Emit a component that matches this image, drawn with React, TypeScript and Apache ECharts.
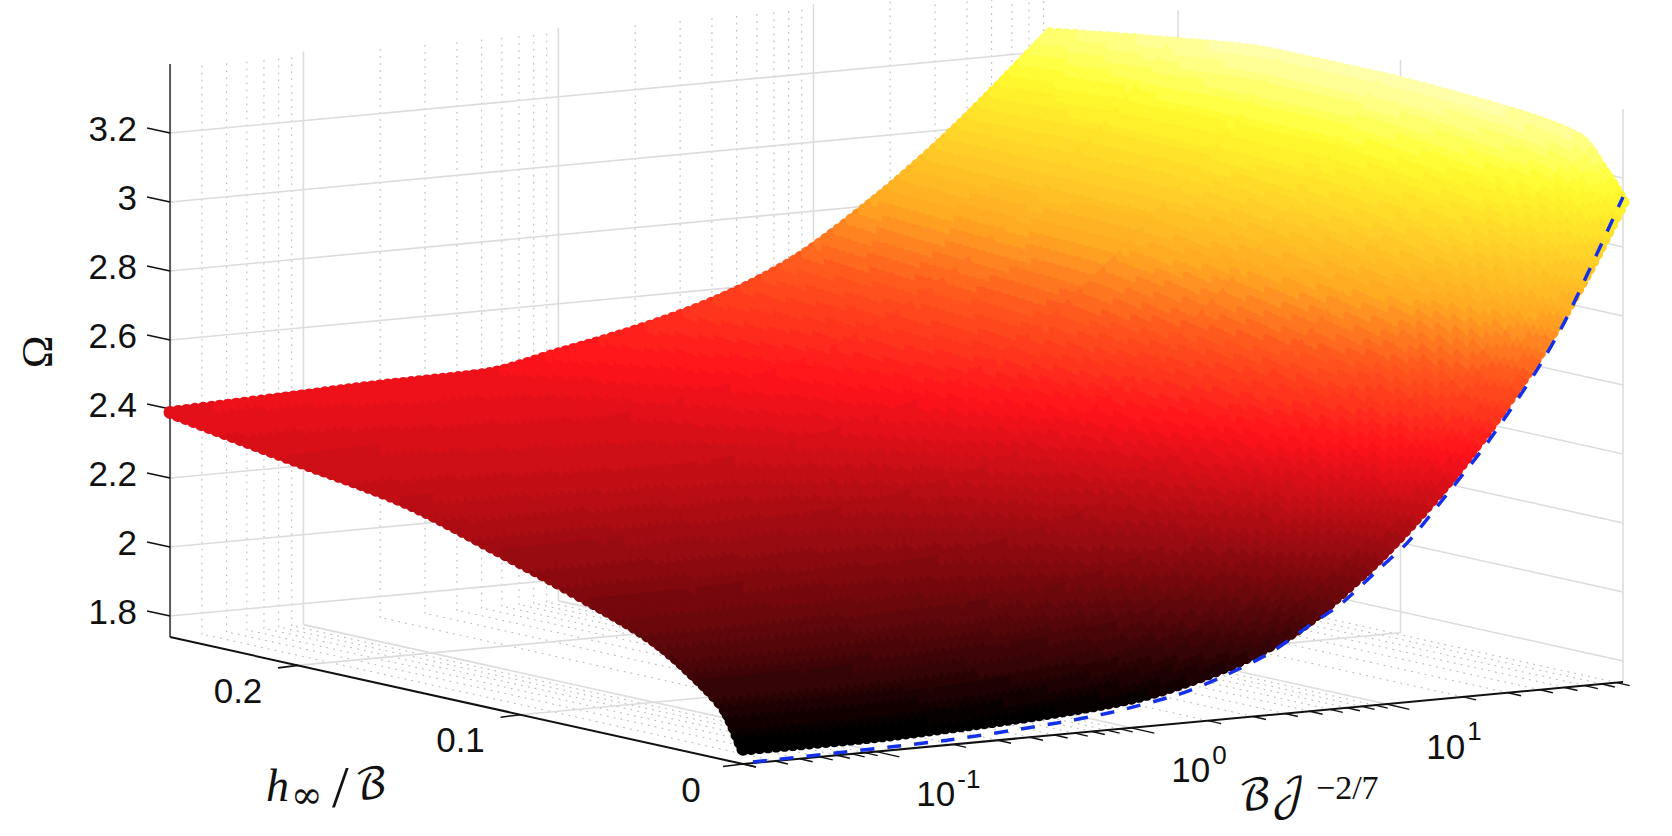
import React, { useEffect, useRef } from "react";
import * as echarts from "echarts";

// ---- data ----
const logXMin = -1.523;
const logXMax = 1.928;
const hMax = 0.2575;
const omegaMin = 1.739;
const omegaMax = 3.4;

const omegaTicks = [1.8, 2, 2.2, 2.4, 2.6, 2.8, 3, 3.2];
const omegaTickLabels = ["1.8", "2", "2.2", "2.4", "2.6", "2.8", "3", "3.2"];
const hTicks = [0, 0.1, 0.2];
const hTickLabels = ["0", "0.1", "0.2"];
const decadeTicks = [-1, 0, 1];
const decadeTickLabels = ["-1", "0", "1"];
const minorFactors = [2, 3, 4, 5, 6, 7, 8, 9];

// surface: log10(BJ^-2/7) columns, h/B rows
const surfaceLogX = [-1.523, -1.1, -0.7, -0.3, 0, 0.3, 0.6, 0.9, 1.2, 1.5, 1.75, 1.928];
const surfaceH = [0, 0.008, 0.02, 0.04, 0.07, 0.11, 0.155, 0.205, 0.2575];
const omegaH0 = [1.782, 1.782, 1.79, 1.805, 1.825, 1.875, 1.96, 2.12, 2.335, 2.61, 2.89, 3.13];
const omegaH1 = [1.885, 1.885, 1.893, 1.908, 1.929, 1.979, 2.063, 2.221, 2.433, 2.705, 2.981, 3.2];
const omegaH2 = [1.955, 1.956, 1.964, 1.978, 2.0, 2.049, 2.132, 2.287, 2.496, 2.763, 3.034, 3.285];
const omegaH3 = [2.04, 2.042, 2.05, 2.063, 2.086, 2.136, 2.217, 2.366, 2.569, 2.828, 3.09, 3.31];
const omegaH4 = [2.115, 2.118, 2.126, 2.139, 2.164, 2.213, 2.291, 2.432, 2.626, 2.873, 3.122, 3.325];
const omegaH5 = [2.2, 2.204, 2.213, 2.224, 2.252, 2.3, 2.375, 2.505, 2.688, 2.918, 3.149, 3.335];
const omegaH6 = [2.285, 2.291, 2.3, 2.309, 2.341, 2.388, 2.458, 2.576, 2.746, 2.958, 3.15, 3.335];
const omegaH7 = [2.335, 2.343, 2.353, 2.36, 2.395, 2.442, 2.507, 2.611, 2.766, 2.958, 3.146, 3.3];
const omegaH8 = [2.39, 2.4, 2.41, 2.415, 2.455, 2.5, 2.56, 2.65, 2.79, 2.96, 3.125, 3.25];
const surfaceOmega = [omegaH0, omegaH1, omegaH2, omegaH3, omegaH4, omegaH5, omegaH6, omegaH7, omegaH8];

// dashed limit curve at h = 0
const dashedLogX = [-1.484, -0.723, -0.292, -0.072, 0.179, 0.348, 0.544, 0.712, 0.818, 0.975, 1.081, 1.21, 1.395, 1.591, 1.708, 1.928];
const dashedOmega = [1.742, 1.753, 1.773, 1.79, 1.822, 1.86, 1.919, 1.994, 2.039, 2.135, 2.2, 2.307, 2.468, 2.667, 2.811, 3.145];

// colour map
const colorOmega = [1.8, 2.45, 2.66, 2.82, 3.14, 3.18, 3.34];
const colorRGB = [
  [0, 0, 0],
  [255, 18, 28],
  [255, 90, 30],
  [255, 170, 35],
  [255, 248, 45],
  [255, 255, 60],
  [255, 255, 175],
];
const COLOR_STEP = 0.028;

// ---- 3-D view ----
const FRONT = [743, 764];
const PX_PER_DECADE = [255, -23.76];
const PX_PER_H = [-2225, -493];
const PX_PER_OMEGA = 345;

function project(logX: number, h: number, omega: number): [number, number] {
  const du = logX - logXMin;
  return [
    FRONT[0] + PX_PER_DECADE[0] * du + PX_PER_H[0] * h,
    FRONT[1] + PX_PER_DECADE[1] * du + PX_PER_H[1] * h - PX_PER_OMEGA * (omega - omegaMin),
  ];
}

function hermite(xs: number[], ys: number[], x: number): number {
  const n = xs.length;
  let k = 0;
  while (k < n - 2 && x > xs[k + 1]) k++;
  const d = (i: number) => (ys[i + 1] - ys[i]) / (xs[i + 1] - xs[i]);
  const slope = (i: number) => {
    if (i === 0) return d(0);
    if (i === n - 1) return d(n - 2);
    const a = d(i - 1);
    const b = d(i);
    if (a * b <= 0) return 0;
    const w1 = 2 * (xs[i + 1] - xs[i]) + (xs[i] - xs[i - 1]);
    const w2 = (xs[i + 1] - xs[i]) + 2 * (xs[i] - xs[i - 1]);
    return (w1 + w2) / (w1 / a + w2 / b);
  };
  const w = xs[k + 1] - xs[k];
  const t = (x - xs[k]) / w;
  const t2 = t * t;
  const t3 = t2 * t;
  return (
    (2 * t3 - 3 * t2 + 1) * ys[k] +
    (t3 - 2 * t2 + t) * w * slope(k) +
    (-2 * t3 + 3 * t2) * ys[k + 1] +
    (t3 - t2) * w * slope(k + 1)
  );
}

function omegaAt(logX: number, h: number): number {
  const row = surfaceLogX.map((_, c) => hermite(surfaceH, surfaceOmega.map((r) => r[c]), h));
  return hermite(surfaceLogX, row, logX);
}

function colorOf(omega: number): string {
  const q = Math.round(omega / COLOR_STEP) * COLOR_STEP;
  if (q <= colorOmega[0]) return "rgb(0,0,0)";
  let k = 0;
  while (k < colorOmega.length - 2 && q > colorOmega[k + 1]) k++;
  const f = Math.min(1, (q - colorOmega[k]) / (colorOmega[k + 1] - colorOmega[k]));
  const c = colorRGB[k].map((v, i) => Math.round(v + f * (colorRGB[k + 1][i] - v)));
  return `rgb(${c[0]},${c[1]},${c[2]})`;
}

const dist = (a: number[], b: number[]) => Math.hypot(a[0] - b[0], a[1] - b[1]);

const DOT_R = 6.5;
const DOT_STEP = 8.5;

function surfaceRender(_p: any, api: any) {
  const c = api.value(0) as number;
  const r = api.value(1) as number;
  const u0 = surfaceLogX[c];
  const u1 = surfaceLogX[c + 1];
  const h0 = surfaceH[r];
  const h1 = surfaceH[r + 1];
  const p00 = project(u0, h0, surfaceOmega[r][c]);
  const p10 = project(u1, h0, surfaceOmega[r][c + 1]);
  const p01 = project(u0, h1, surfaceOmega[r + 1][c]);
  const p11 = project(u1, h1, surfaceOmega[r + 1][c + 1]);
  const ns = Math.max(1, Math.ceil(Math.max(dist(p00, p10), dist(p01, p11)) / DOT_STEP));
  const nt = Math.max(1, Math.ceil(Math.max(dist(p00, p01), dist(p10, p11)) / DOT_STEP));
  const children: any[] = [];
  const lastA = c === surfaceLogX.length - 2 ? ns : ns - 1;
  const lastB = r === surfaceH.length - 2 ? nt : nt - 1;
  for (let a = 0; a <= lastA; a++) {
    for (let b = lastB; b >= 0; b--) {
      const u = u0 + ((u1 - u0) * a) / ns;
      const h = h0 + ((h1 - h0) * b) / nt;
      const w = omegaAt(u, h);
      const pt = api.coord(project(u, h, w));
      children.push({
        type: "circle",
        shape: { cx: pt[0], cy: pt[1], r: DOT_R },
        style: { fill: colorOf(w) },
      });
    }
  }
  return { type: "group", children };
}

const GRID = "#dcdcdc";
const DOT = "#b4b4b4";

function seg(name: string, a: number[], b: number[], color: string, width: number, z: number, dash?: number[]) {
  return {
    type: "line",
    name,
    z,
    data: [a, b],
    showSymbol: false,
    silent: true,
    clip: false,
    animation: false,
    lineStyle: { color, width, type: dash ?? "solid", cap: dash ? "round" : "butt" },
  };
}

function buildSeries() {
  const out: any[] = [];
  // minor log gridlines
  const minors: number[] = [];
  for (const d of [-2, -1, 0, 1]) {
    for (const f of minorFactors) {
      const u = d + Math.log10(f);
      if (u >= logXMin - 0.002 && u <= logXMax) minors.push(u);
    }
  }
  for (const u of minors) {
    if (u > logXMin + 0.01) {
      out.push(seg("minor wall", project(u, hMax, omegaMin), project(u, hMax, omegaMax), DOT, 1, 1, [1, 6]));
    }
    out.push(seg("minor floor", project(u, 0, omegaMin), project(u, hMax, omegaMin), DOT, 1, 1, [1, 6]));
  }
  // major gridlines
  for (const w of omegaTicks) {
    out.push(seg("omega back", project(logXMin, hMax, w), project(logXMax, hMax, w), GRID, 1.6, 1));
    out.push(seg("omega right", project(logXMax, hMax, w), project(logXMax, 0, w), GRID, 1.6, 1));
  }
  for (const u of decadeTicks) {
    out.push(seg("decade floor", project(u, 0, omegaMin), project(u, hMax, omegaMin), GRID, 1.6, 1));
    out.push(seg("decade wall", project(u, hMax, omegaMin), project(u, hMax, omegaMax), GRID, 1.6, 1));
  }
  for (const h of hTicks) {
    if (h > 0) out.push(seg("h floor", project(logXMin, h, omegaMin), project(logXMax, h, omegaMin), GRID, 1.6, 1));
    out.push(seg("h wall", project(logXMax, h, omegaMin), project(logXMax, h, omegaMax), GRID, 1.6, 1));
  }
  // axes
  out.push(seg("omega axis", project(logXMin, hMax, omegaMin), project(logXMin, hMax, omegaMax), "#5a5a5a", 2, 1));
  out.push(seg("h axis", project(logXMin, hMax, omegaMin), project(logXMin, 0, omegaMin), "#111", 2, 1));
  out.push(seg("x axis", project(logXMin, 0, omegaMin), project(logXMax, 0, omegaMin), "#111", 2, 1));
  // ticks
  for (const w of omegaTicks) {
    const a = project(logXMin, hMax, w);
    out.push(seg("omega tick", a, [a[0] - 23, a[1] - 5], "#111", 1.6, 1));
  }
  for (const h of hTicks) {
    const a = project(logXMin, h, omegaMin);
    out.push(seg("h tick", a, [a[0] - 20, a[1] + 2.5], "#111", 1.6, 1));
  }
  for (const u of [logXMin, ...minors]) {
    const a = project(u, 0, omegaMin);
    out.push(seg("x minor tick", a, [a[0] + 13, a[1] + 3], "#111", 1.4, 1));
  }
  for (const u of decadeTicks) {
    const a = project(u, 0, omegaMin);
    out.push(seg("x tick", a, [a[0] + 23, a[1] + 5.3], "#111", 1.4, 1));
  }
  // surface
  const cells: number[][] = [];
  for (let c = 0; c < surfaceLogX.length - 1; c++) {
    for (let r = surfaceH.length - 2; r >= 0; r--) {
      cells.push([c, r, surfaceOmega[r][c]]);
    }
  }
  out.push({
    type: "custom",
    name: "surface",
    z: 5,
    data: cells,
    renderItem: surfaceRender,
    silent: true,
    clip: false,
    encode: { x: 0, y: 1 },
    animation: false,
  });
  // dashed
  out.push({
    type: "line",
    name: "limit",
    z: 6,
    data: dashedLogX.map((u, i) => project(u, 0, dashedOmega[i])),
    smooth: 0.25,
    showSymbol: false,
    silent: true,
    clip: false,
    lineStyle: { color: "#1430e8", width: 3.5, type: [14, 13] },
  });
  return out;
}

const SANS = '"Liberation Sans", Arial, sans-serif';
const SERIF = '"Liberation Serif", serif';
const MATH = '"DejaVu Math TeX Gyre", "Latin Modern Math", "DejaVu Serif", "Liberation Serif", serif';

function txt(x: number, y: number, text: string, fontSize: number, align = "center", family = SANS, extra: any = {}) {
  return {
    type: "text",
    x,
    y,
    silent: true,
    z: 100,
    ...extra.el,
    style: {
      text,
      fontSize,
      fontFamily: family,
      fill: "#111111",
      textAlign: align,
      textVerticalAlign: "middle",
      ...extra.style,
    },
  };
}

function buildGraphics() {
  const g: any[] = [];
  omegaTicks.forEach((w, i) => {
    const a = project(logXMin, hMax, w);
    g.push(txt(a[0] - 33, a[1] - 5, omegaTickLabels[i], 35, "right"));
  });
  hTicks.forEach((h, i) => {
    const a = project(logXMin, h, omegaMin);
    const labelX = a[0] - 60 + (h === 0 ? 8 : 0);
    const labelY = a[1] + 25;
    g.push(txt(labelX, labelY, hTickLabels[i], 35));
  });
  decadeTicks.forEach((u, i) => {
    const a = project(u, 0, omegaMin);
    g.push(txt(a[0] + 40, a[1] + 42, "10", 35, "left"));
    g.push(txt(a[0] + 81, a[1] + 27, decadeTickLabels[i], 26, "left"));
  });
  // axis titles
  g.push(txt(37, 352, "Ω", 44, "center", SERIF, { el: { rotation: Math.PI / 2 } }));
  g.push(txt(266, 785, "h", 46, "left", SERIF, { style: { fontStyle: "italic" } }));
  g.push(txt(292, 797, "∞", 38, "left", MATH));
  g.push(txt(332, 787, "/", 60, "left", SERIF));
  g.push(txt(354, 786, "ℬ", 42, "left", MATH));
  g.push(txt(1238, 797, "ℬ𝒥", 42, "left", MATH));
  g.push(txt(1316, 787, "−2/7", 34, "left", SERIF));
  return g;
}

export default function App() {
  const ref = useRef<HTMLDivElement>(null);
  useEffect(() => {
    document.body.style.margin = "0";
    const chart = echarts.init(ref.current!, undefined, { renderer: "svg" });
    chart.setOption({
      animation: false,
      backgroundColor: "#ffffff",
      grid: { left: 0, right: 0, top: 0, bottom: 0 },
      xAxis: { type: "value", min: 0, max: 1672, show: false },
      yAxis: { type: "value", min: 0, max: 836, inverse: true, show: false },
      series: buildSeries(),
      graphic: buildGraphics(),
    });
    return () => chart.dispose();
  }, []);
  return <div ref={ref} style={{ position: "absolute", left: 0, top: 0, width: 1672, height: 836 }} />;
}
